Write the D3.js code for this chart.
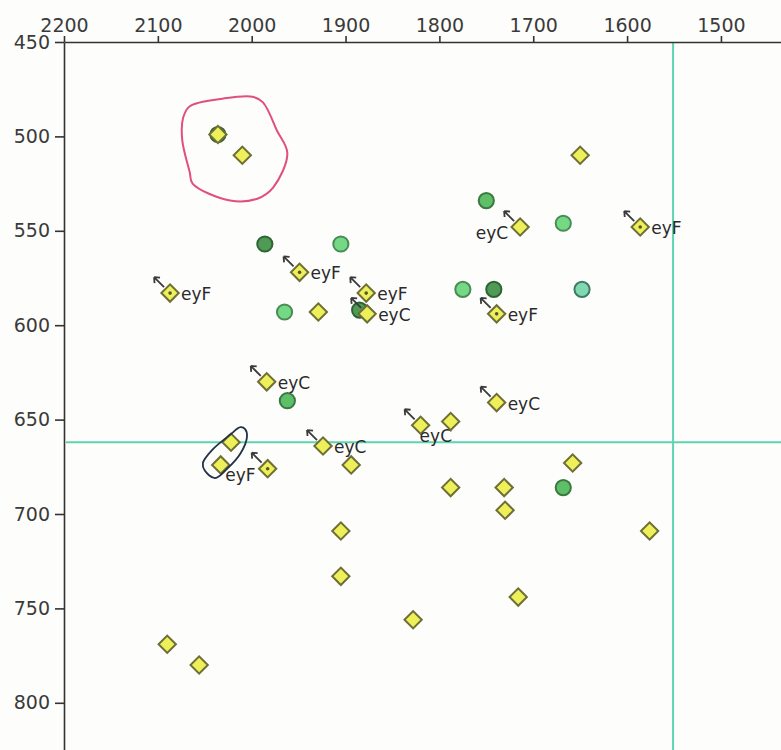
<!DOCTYPE html>
<html>
<head>
<meta charset="utf-8">
<script src="https://cdn.jsdelivr.net/npm/d3@7"></script>
<style>
  body { margin: 0; background: #fdfdfb; }
  svg { display: block; }
  .axis text { font-family: "DejaVu Sans", sans-serif; font-size: 19px; fill: #3a3a3a; }
  .axis path, .axis line { stroke: #333; stroke-width: 1.6; }
  .tag { font-family: "DejaVu Sans", sans-serif; font-size: 17px; fill: #2a2a2a; }
</style>
</head>
<body>
<div class="chart"></div>
<script>
// values
var xTicks = [2200, 2100, 2000, 1900, 1800, 1700, 1600, 1500];
var yTicks = [450, 500, 550, 600, 650, 700, 750, 800];

// yellow diamonds
var diamondX = [2036, 2010, 1650, 1714, 1586, 1949, 2087, 1878, 1877, 1929, 1739,
                1984, 1739, 1820, 1788, 2022, 2033, 1983, 1924, 1894, 1788, 1731,
                1730, 1658, 1576, 1905, 1905, 1716, 1828, 2090, 2056];
var diamondY = [499, 510, 510, 548, 548, 572, 583, 583, 594, 593, 594,
                630, 641, 653, 651, 662, 674, 676, 664, 674, 686, 686,
                698, 673, 709, 709, 733, 744, 756, 769, 780];
var diamondTag = ["", "", "", "eyC", "eyF", "eyF", "eyF", "eyF", "eyC", "", "eyF",
                  "eyC", "eyC", "eyC", "", "", "", "eyF", "eyC", "", "", "",
                  "", "", "", "", "", "", "", "", ""];

// green circles
var circleX = [2036, 1986, 1905, 1965, 1750, 1668, 1775, 1742, 1648, 1962, 1668, 1885];
var circleY = [499, 557, 557, 593, 534, 546, 581, 581, 581, 640, 686, 592];
var circleGroup = ["d", "d", "l", "l", "m", "l", "l", "d", "t", "m", "m", "d"];

// cross-hair reference values
var refX = 1551, refY = 662;

// hand-drawn loops (data units)
var redLoopX = [2066, 2031, 1999, 1988, 1973, 1962, 1977, 1994, 2023, 2063, 2066, 2074, 2073];
var redLoopY = [484, 480, 479, 482, 497, 509, 527, 533, 534, 525, 519, 502, 490];
var blueLoopX = [2007, 2005, 2012, 2026, 2039, 2050, 2052, 2042, 2023, 2012];
var blueLoopY = [655, 659, 668, 676, 681, 677, 673, 666, 658, 654];

// label placement (layout only)
var tagSide = {3: "left", 13: "below", 17: "left"};

var svgWidth = 781, svgHeight = 750;
var margin = {top: 42, left: 64};

var svg = d3.select(".chart").append("svg")
    .attr("width", svgWidth)
    .attr("height", svgHeight);

svg.append("rect").attr("width", svgWidth).attr("height", svgHeight).attr("fill", "#fdfdfb");

var x = d3.scaleLinear().domain([2200, 1436]).range([margin.left, svgWidth]);
var y = d3.scaleLinear().domain([450, 825]).range([margin.top, svgHeight]);

var shade = {
    d: {fill: "#4f9a55", stroke: "#2f6334"},
    m: {fill: "#5fbf69", stroke: "#3a7a40"},
    l: {fill: "#74d884", stroke: "#4a8a55"},
    t: {fill: "#7fd8b0", stroke: "#3f7a66"}
};

// cross-hair lines
svg.append("line")
    .attr("x1", x(2200) + 2).attr("x2", svgWidth)
    .attr("y1", y(refY)).attr("y2", y(refY))
    .attr("stroke", "#5fd3b4").attr("stroke-width", 2);
svg.append("line")
    .attr("x1", x(refX)).attr("x2", x(refX))
    .attr("y1", y(450)).attr("y2", svgHeight)
    .attr("stroke", "#5fd3b4").attr("stroke-width", 2);

// axes
svg.append("g")
    .attr("class", "axis")
    .attr("transform", "translate(0," + y(450) + ")")
    .call(d3.axisTop(x).tickValues(xTicks).tickFormat(d3.format("d"))
        .tickSize(6).tickSizeOuter(0).tickPadding(4));

svg.append("g")
    .attr("class", "axis")
    .attr("transform", "translate(" + x(2200) + ",0)")
    .call(d3.axisLeft(y).tickValues(yTicks).tickFormat(d3.format("d"))
        .tickSize(9).tickSizeOuter(0).tickPadding(5));

svg.selectAll(".axis .domain").attr("fill", "none");

// circles
var circles = d3.range(circleX.length);
svg.append("g").selectAll("circle")
    .data(circles)
    .join("circle")
    .attr("cx", function(i) { return x(circleX[i]); })
    .attr("cy", function(i) { return y(circleY[i]); })
    .attr("r", 7.6)
    .attr("fill", function(i) { return shade[circleGroup[i]].fill; })
    .attr("stroke", function(i) { return shade[circleGroup[i]].stroke; })
    .attr("stroke-width", 2);

// diamonds
var diamonds = d3.range(diamondX.length);
var sq = d3.symbol().type(d3.symbolSquare).size(150);
var dg = svg.append("g").selectAll("g")
    .data(diamonds)
    .join("g")
    .attr("transform", function(i) { return "translate(" + x(diamondX[i]) + "," + y(diamondY[i]) + ")"; });

// arrows for tagged diamonds
dg.filter(function(i) { return diamondTag[i] !== ""; })
    .append("path")
    .attr("d", "M-6,-6L-16,-16M-16,-16L-15.5,-10M-16,-16L-10,-15.5")
    .attr("fill", "none")
    .attr("stroke", "#3a3a3a")
    .attr("stroke-width", 1.8);

dg.append("path")
    .attr("d", sq)
    .attr("transform", "rotate(45)")
    .attr("fill", "#eef05a")
    .attr("stroke", "#6e6e36")
    .attr("stroke-width", 2);

dg.filter(function(i) { return diamondTag[i] === "eyF"; })
    .append("circle")
    .attr("r", 1.8)
    .attr("fill", "#555530");

dg.filter(function(i) { return diamondTag[i] !== ""; })
    .append("text")
    .attr("class", "tag")
    .attr("x", function(i) {
        var s = tagSide[i];
        return s === "left" ? -12 : s === "below" ? -1 : 11;
    })
    .attr("y", function(i) {
        var s = tagSide[i];
        return s === "left" ? 12 : s === "below" ? 17 : 7;
    })
    .attr("text-anchor", function(i) { return tagSide[i] === "left" ? "end" : "start"; })
    .text(function(i) { return diamondTag[i]; });

// hand-drawn loops
var loop = d3.line()
    .x(function(d) { return x(d[0]); })
    .y(function(d) { return y(d[1]); })
    .curve(d3.curveCatmullRomClosed);

svg.append("path")
    .attr("d", loop(d3.zip(redLoopX, redLoopY)))
    .attr("fill", "none")
    .attr("stroke", "#e0507a")
    .attr("stroke-width", 2);

svg.append("path")
    .attr("d", loop(d3.zip(blueLoopX, blueLoopY)))
    .attr("fill", "none")
    .attr("stroke", "#22304a")
    .attr("stroke-width", 1.8);
</script>
</body>
</html>
